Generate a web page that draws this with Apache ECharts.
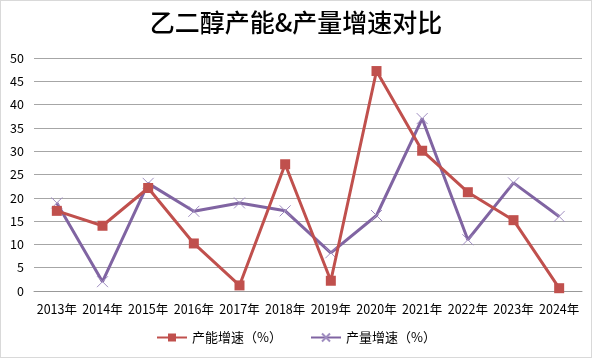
<!DOCTYPE html>
<html><head><meta charset="utf-8">
<script src="https://cdn.jsdelivr.net/npm/echarts@6/dist/echarts.min.js"></script>
<style>html,body{margin:0;padding:0;background:#fff}#c{width:592px;height:358px;box-sizing:border-box;border:1px solid #d9d9d9}</style>
</head><body><div id="c"></div>
<script>
var title = '乙二醇产能&产量增速对比';
var categories = ['2013年','2014年','2015年','2016年','2017年','2018年','2019年','2020年','2021年','2022年','2023年','2024年'];
var capacityName = '产能增速（%）';
var outputName = '产量增速（%）';
var capacityGrowth = [17.2, 14.0, 22.1, 10.2, 1.2, 27.2, 2.2, 47.2, 30.1, 21.2, 15.2, 0.6];
var outputGrowth = [18.9, 2.0, 23.1, 17.1, 18.9, 17.2, 8.2, 16.2, 37.0, 11.0, 23.2, 16.0];

var chart = echarts.init(document.getElementById('c'));
var font = '"Noto Sans CJK SC", "Noto Sans", sans-serif';
chart.setOption({
  animation: false,
  title: {text: title, left: 'center', top: 4, textStyle: {fontFamily: font, fontSize: 25, fontWeight: 500, color: '#000'}},
  grid: {left: 33, right: 9, top: 57, bottom: 66, containLabel: false},
  legend: {bottom: 8, left: 'center', itemGap: 28, itemWidth: 30, itemHeight: 10,
    textStyle: {fontFamily: font, fontSize: 13, color: '#000'},
    data: [capacityName, outputName]},
  xAxis: {type: 'category', data: categories, boundaryGap: true,
    axisLine: {show: true, lineStyle: {color: '#999', width: 1}},
    axisTick: {show: false},
    axisLabel: {interval: 0, fontFamily: font, fontSize: 12.5, color: '#000', margin: 12}},
  yAxis: {type: 'value', min: 0, max: 50, interval: 5,
    axisLine: {show: false}, axisTick: {show: false},
    splitLine: {lineStyle: {color: '#a6a6a6', width: 1}},
    axisLabel: {fontFamily: font, fontSize: 12.5, color: '#000', margin: 10}},
  series: [
    {name: capacityName, type: 'line', data: capacityGrowth, symbol: 'rect', symbolSize: 10,
      lineStyle: {color: '#C0504D', width: 3}, itemStyle: {color: '#C0504D'}, z: 3},
    {name: outputName, type: 'line', data: outputGrowth,
      symbol: 'path://M0,0L10,10M10,0L0,10', symbolSize: 11,
      lineStyle: {color: '#8064A2', width: 3},
      itemStyle: {color: '#8064A2', borderColor: '#9F8DC0', borderWidth: 1}, z: 2}
  ]
});
</script></body></html>
